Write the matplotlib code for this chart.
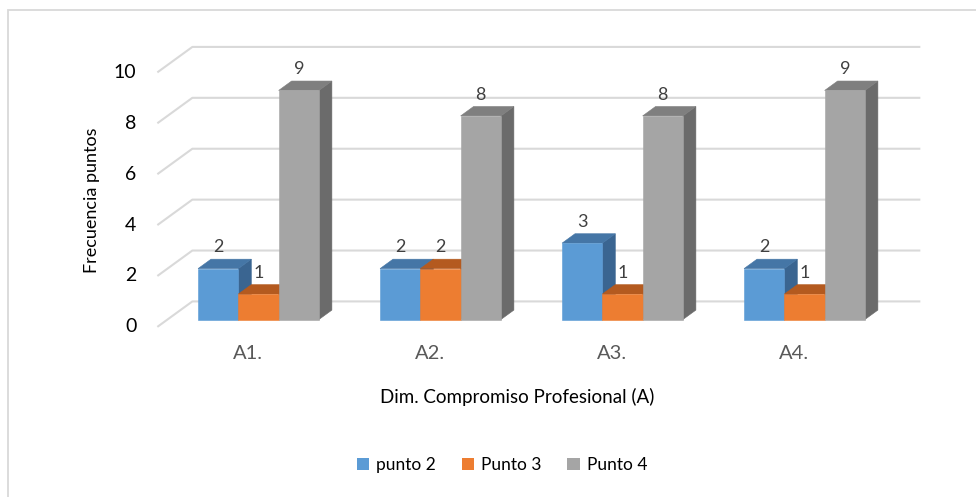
import numpy as np
import matplotlib
matplotlib.use("Agg")
import matplotlib.pyplot as plt
from matplotlib.patches import Polygon, Patch, Rectangle

plt.rcParams['font.family'] = ['Lato', 'DejaVu Sans']

# data
categories = ['A1.', 'A2.', 'A3.', 'A4.']
series_names = ['punto 2', 'Punto 3', 'Punto 4']
punto2 = [2, 2, 3, 2]
punto3 = [1, 2, 1, 1]
punto4 = [9, 8, 8, 9]
y_ticks = [0, 2, 4, 6, 8, 10]

# face colours per series: front, top, side
front_cols = ['#5B9BD5', '#ED7D31', '#A5A5A5']
top_cols = ['#4576A6', '#B45A1F', '#7F7F7F']
side_cols = ['#3A6591', '#9C4E1B', '#6B6B6B']
grid_col = '#D9D9D9'

# fake 3d projection: depth t in [0, 1] from floor front to back wall
DX, DY = 0.1923, 1.0      # shift of full depth in (category, value) units
T_FRONT, T_BACK = 0.29, 0.66   # depth of bar front / back faces
BAR_W = 0.2214


def proj(x, v, t):
    return x + (t - T_FRONT) * DX, v + (t - T_FRONT) * DY


fig = plt.figure(figsize=(9.76, 4.97), dpi=100)
ax = fig.add_axes([0, 0, 1, 1])
px_cat, px_unit = 182.0, 25.45
x0_px, y0_px = 258.5, 319.5
ax.set_xlim(-x0_px / px_cat, (976 - x0_px) / px_cat)
ax.set_ylim((y0_px - 497) / px_unit, y0_px / px_unit)
ax.axis('off')

# chart border (right and bottom edges fall outside the canvas)
ax.add_patch(Rectangle((8 / 976, -0.5), 2.0, 1.5 - 10 / 497,
                       transform=fig.transFigure, fill=False, ec=grid_col,
                       lw=1.3, zorder=0))

# gridlines: diagonal on the side wall + horizontal on the back wall
n = len(categories)
for v in y_ticks:
    xa, ya = proj(-0.5, v, 0.0)
    xb, yb = proj(-0.5, v, 1.0)
    xc, yc = proj(n - 0.5, v, 1.0)
    ax.plot([xa, xb, xc], [ya, yb, yc], color=grid_col, lw=1.5,
            solid_capstyle='butt', zorder=1)
    ax.text(xa - 21 / px_cat, ya, str(v), ha='right', va='center',
            fontsize=14, color='#000000')

# bars, painted left to right
series = [punto2, punto3, punto4]
for i in range(n):
    for s, vals in enumerate(series):
        v = vals[i]
        xl = i + (s - 1) * BAR_W - BAR_W / 2
        xr = xl + BAR_W
        front = [proj(xl, 0, T_FRONT), proj(xr, 0, T_FRONT),
                 proj(xr, v, T_FRONT), proj(xl, v, T_FRONT)]
        top = [proj(xl, v, T_FRONT), proj(xr, v, T_FRONT),
               proj(xr, v, T_BACK), proj(xl, v, T_BACK)]
        side = [proj(xr, 0, T_FRONT), proj(xr, 0, T_BACK),
                proj(xr, v, T_BACK), proj(xr, v, T_FRONT)]
        for pts, col in ((side, side_cols[s]), (top, top_cols[s]),
                         (front, front_cols[s])):
            ax.add_patch(Polygon(pts, closed=True, fc=col, ec=col,
                                 lw=0.4, zorder=2))
        _, ly = proj(0, v, T_BACK)
        ax.text((xl + xr) / 2, ly + 0.47, str(v), ha='center', va='center',
                fontsize=13, color='#404040', zorder=3)

# category labels
for i, c in enumerate(categories):
    cx, cy = proj(i, 0, 0.0)
    ax.text(cx, cy - 1.05, c, ha='center', va='center', fontsize=14.5,
            color='#595959')

fig.text(92 / 976, 1 - 200 / 497, 'Frecuencia puntos', rotation=90,
         ha='center', va='center', fontsize=13, color='#000000')
fig.text(517 / 976, 1 - 397 / 497, 'Dim. Compromiso Profesional (A)',
         ha='center', va='center', fontsize=13.5, color='#000000')

handles = [Patch(fc=front_cols[k], ec='none') for k in range(3)]
fig.legend(handles, series_names, loc='center', ncol=3,
           bbox_to_anchor=(502 / 976, 1 - 465 / 497), frameon=False,
           fontsize=12.5, handlelength=0.7, handleheight=0.7,
           handletextpad=0.4, columnspacing=1.5)

fig.savefig('out.png', dpi=100)
